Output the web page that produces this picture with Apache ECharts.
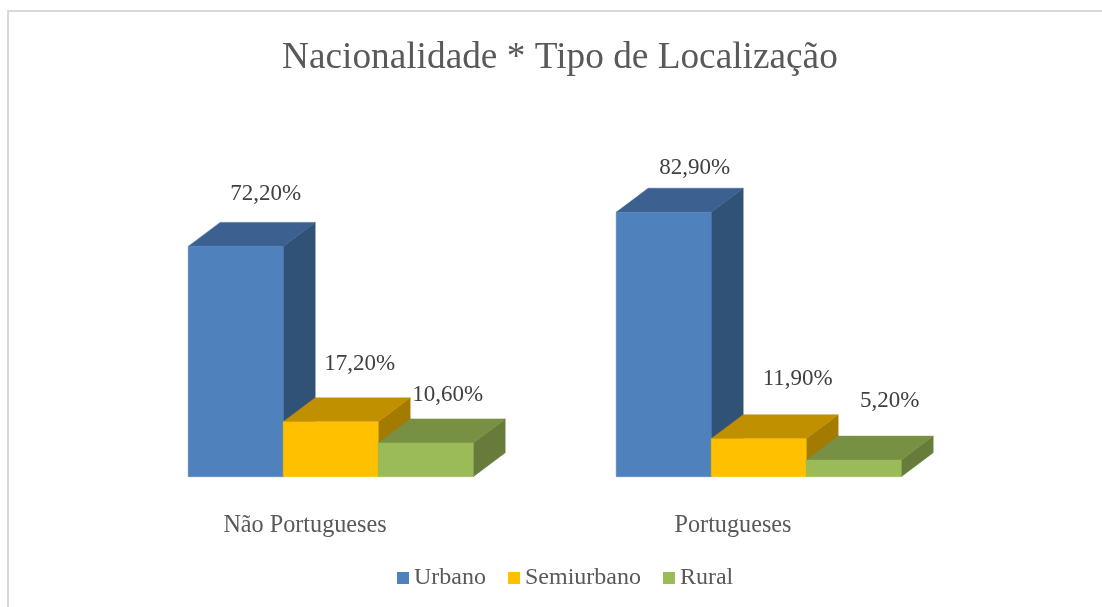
<!DOCTYPE html>
<html>
<head>
<meta charset="utf-8">
<title>Nacionalidade * Tipo de Localização</title>
<style>
  html, body { margin: 0; padding: 0; background: #fff; }
  #chart { width: 1102px; height: 607px; }
</style>
</head>
<body>
<div id="chart"></div>
<script src="https://cdn.jsdelivr.net/npm/echarts@6/dist/echarts.min.js"></script>
<script>
const categories = ['Não Portugueses', 'Portugueses']
const seriesNames = ['Urbano', 'Semiurbano', 'Rural']
const urbano = [72.2, 82.9]
const semiurbano = [17.2, 11.9]
const rural = [10.6, 5.2]

const FONT = '"Liberation Serif", serif'
const BAR_W = 95
const GROUP_LEFT = -116.8 // first bar starts left of the category centre
const DEPTH_X = 32
const DEPTH_Y = 24

// [front, top, side]
const shades = [
  ['#4f81bd', '#3c6191', '#315277'],
  ['#ffc000', '#c09000', '#a37b00'],
  ['#9bbb59', '#779043', '#677c3b'],
]

// the labels were placed by hand in the original: offset from top of the front face
const labelNudge = [
  [[30, -52], [31, -44]],
  [[29, -58], [39, -60]],
  [[22, -48], [36, -59]],
]

function poly(points, fill) {
  return { type: 'polygon', shape: { points }, style: { fill, stroke: fill, lineWidth: 0.5 } }
}

function renderBar(params, api) {
  const s = params.seriesIndex
  const cat = api.value(0)
  const val = api.value(1)
  const top = api.coord([cat, val])
  const base = api.coord([cat, 0])
  const x0 = top[0] + GROUP_LEFT + s * BAR_W
  const x1 = x0 + BAR_W
  const y0 = top[1]
  const y1 = base[1]
  const c = shades[s]
  const nudge = labelNudge[s][cat]
  return {
    type: 'group',
    children: [
      poly([[x1, y0], [x1 + DEPTH_X, y0 - DEPTH_Y], [x1 + DEPTH_X, y1 - DEPTH_Y], [x1, y1]], c[2]),
      poly([[x0, y0], [x0 + DEPTH_X, y0 - DEPTH_Y], [x1 + DEPTH_X, y0 - DEPTH_Y], [x1, y0]], c[1]),
      poly([[x0, y0], [x1, y0], [x1, y1], [x0, y1]], c[0]),
      {
        type: 'text',
        z2: 10,
        style: {
          x: (x0 + x1) / 2 + nudge[0],
          y: y0 + nudge[1],
          text: val.toFixed(2).replace('.', ',') + '%',
          font: '23px ' + FONT,
          fill: '#404040',
          align: 'center',
          verticalAlign: 'middle',
        },
      },
    ],
  }
}

function makeSeries(name, values, i) {
  return {
    type: 'custom',
    name,
    renderItem: renderBar,
    itemStyle: { color: shades[i][0] },
    encode: { x: 0, y: 1 },
    data: values.map((v, idx) => [idx, v]),
  }
}

const chart = echarts.init(document.getElementById('chart'))
chart.setOption({
  animation: false,
  backgroundColor: '#fff',
  graphic: [
    {
      type: 'rect',
      silent: true,
      shape: { x: 8, y: 11, width: 1300, height: 800 },
      style: { fill: 'none', stroke: '#d9d9d9', lineWidth: 2 },
    },
  ],
  title: {
    text: 'Nacionalidade * Tipo de Localização',
    left: 282,
    top: 40,
    padding: 0,
    textStyle: { fontFamily: FONT, fontSize: 37.3, fontWeight: 'normal', color: '#595959' },
  },
  legend: {
    left: 397,
    top: 566,
    padding: 0,
    itemWidth: 12,
    itemHeight: 12,
    itemGap: 22,
    icon: 'rect',
    data: seriesNames,
    textStyle: { fontFamily: FONT, fontSize: 24, color: '#595959' },
  },
  grid: { left: 91, width: 856, top: 157.7, bottom: 130.3 },
  xAxis: {
    type: 'category',
    data: categories,
    axisLine: { show: false },
    axisTick: { show: false },
    axisLabel: { fontFamily: FONT, fontSize: 24.2, color: '#595959', margin: 37 },
  },
  yAxis: { type: 'value', min: 0, max: 100, show: false },
  series: [
    makeSeries(seriesNames[0], urbano, 0),
    makeSeries(seriesNames[1], semiurbano, 1),
    makeSeries(seriesNames[2], rural, 2),
  ],
})
</script>
</body>
</html>
